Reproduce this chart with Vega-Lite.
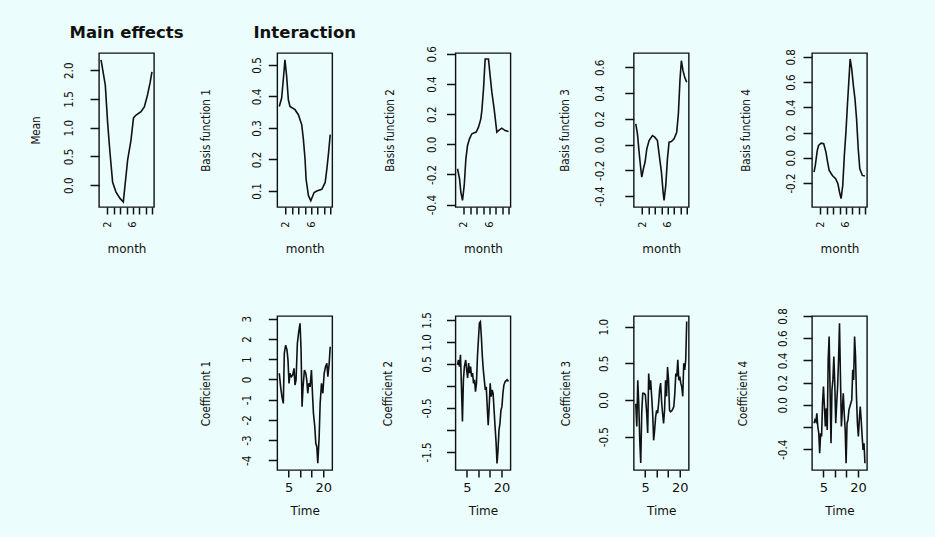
{
  "$schema": "https://vega.github.io/schema/vega-lite/v6.json",
  "padding": {"left": 29, "top": 23, "right": 68, "bottom": 20},
  "datasets": {
    "mean": [
      {"month": 1.0, "value": 2.18}, {"month": 1.67, "value": 1.74}, {"month": 2.04, "value": 1.08}, {"month": 2.41, "value": 0.56},
      {"month": 2.82, "value": 0.05}, {"month": 3.35, "value": -0.12}, {"month": 3.98, "value": -0.23}, {"month": 4.5, "value": -0.29},
      {"month": 4.8, "value": 0.03}, {"month": 5.18, "value": 0.44}, {"month": 5.7, "value": 0.78}, {"month": 6.1, "value": 1.17},
      {"month": 6.5, "value": 1.22}, {"month": 7.28, "value": 1.28}, {"month": 7.8, "value": 1.36}, {"month": 8.3, "value": 1.57},
      {"month": 8.7, "value": 1.78}, {"month": 9.0, "value": 1.97}
    ],
    "b1": [
      {"month": 1.0, "value": 0.368}, {"month": 1.37, "value": 0.395}, {"month": 1.63, "value": 0.453}, {"month": 1.89, "value": 0.516},
      {"month": 2.16, "value": 0.463}, {"month": 2.42, "value": 0.39}, {"month": 2.68, "value": 0.368}, {"month": 3.47, "value": 0.358},
      {"month": 4.0, "value": 0.342}, {"month": 4.53, "value": 0.31}, {"month": 4.79, "value": 0.263}, {"month": 5.05, "value": 0.2},
      {"month": 5.21, "value": 0.137}, {"month": 5.58, "value": 0.085}, {"month": 5.95, "value": 0.069}, {"month": 6.47, "value": 0.095},
      {"month": 6.89, "value": 0.1}, {"month": 7.68, "value": 0.105}, {"month": 8.21, "value": 0.127}, {"month": 8.47, "value": 0.169},
      {"month": 8.74, "value": 0.221}, {"month": 9.0, "value": 0.279}
    ],
    "b2": [
      {"month": 1.0, "value": -0.162}, {"month": 1.31, "value": -0.228}, {"month": 1.52, "value": -0.317}, {"month": 1.78, "value": -0.372},
      {"month": 2.05, "value": -0.273}, {"month": 2.31, "value": -0.096}, {"month": 2.57, "value": -0.008}, {"month": 2.88, "value": 0.036},
      {"month": 3.25, "value": 0.07}, {"month": 3.93, "value": 0.081}, {"month": 4.29, "value": 0.114}, {"month": 4.66, "value": 0.169},
      {"month": 4.82, "value": 0.224}, {"month": 5.08, "value": 0.368}, {"month": 5.34, "value": 0.566}, {"month": 5.86, "value": 0.566},
      {"month": 6.12, "value": 0.456}, {"month": 6.39, "value": 0.346}, {"month": 6.75, "value": 0.235}, {"month": 7.17, "value": 0.081},
      {"month": 7.43, "value": 0.091}, {"month": 7.95, "value": 0.107}, {"month": 8.48, "value": 0.091}, {"month": 9.0, "value": 0.085}
    ],
    "b3": [
      {"month": 1.0, "value": 0.16}, {"month": 1.26, "value": 0.083}, {"month": 1.52, "value": -0.059}, {"month": 1.78, "value": -0.188},
      {"month": 1.94, "value": -0.253}, {"month": 2.2, "value": -0.188}, {"month": 2.46, "value": -0.136}, {"month": 2.73, "value": -0.033},
      {"month": 3.09, "value": 0.031}, {"month": 3.61, "value": 0.07}, {"month": 3.98, "value": 0.057}, {"month": 4.4, "value": 0.031},
      {"month": 4.66, "value": -0.072}, {"month": 5.03, "value": -0.214}, {"month": 5.29, "value": -0.369}, {"month": 5.44, "value": -0.434},
      {"month": 5.71, "value": -0.318}, {"month": 5.97, "value": -0.111}, {"month": 6.23, "value": 0.019}, {"month": 6.59, "value": 0.023},
      {"month": 7.01, "value": 0.044}, {"month": 7.43, "value": 0.096}, {"month": 7.69, "value": 0.238}, {"month": 7.95, "value": 0.509},
      {"month": 8.16, "value": 0.651}, {"month": 8.42, "value": 0.574}, {"month": 8.69, "value": 0.522}, {"month": 9.0, "value": 0.484}
    ],
    "b4": [
      {"month": 1.0, "value": -0.113}, {"month": 1.2, "value": -0.061}, {"month": 1.51, "value": 0.058}, {"month": 1.71, "value": 0.097},
      {"month": 2.11, "value": 0.116}, {"month": 2.52, "value": 0.111}, {"month": 2.87, "value": 0.045}, {"month": 3.13, "value": -0.034},
      {"month": 3.38, "value": -0.1}, {"month": 3.89, "value": -0.14}, {"month": 4.39, "value": -0.166}, {"month": 4.75, "value": -0.206},
      {"month": 5.0, "value": -0.271}, {"month": 5.25, "value": -0.324}, {"month": 5.51, "value": -0.219}, {"month": 5.76, "value": 0.018},
      {"month": 6.01, "value": 0.203}, {"month": 6.27, "value": 0.44}, {"month": 6.52, "value": 0.651}, {"month": 6.67, "value": 0.783},
      {"month": 6.92, "value": 0.704}, {"month": 7.18, "value": 0.572}, {"month": 7.43, "value": 0.466}, {"month": 7.68, "value": 0.308},
      {"month": 7.94, "value": 0.071}, {"month": 8.19, "value": -0.087}, {"month": 8.59, "value": -0.14}, {"month": 9.0, "value": -0.145}
    ],
    "c1": [
      {"time": 1.0, "value": 0.3}, {"time": 1.58, "value": -0.37}, {"time": 2.16, "value": -0.86}, {"time": 2.74, "value": -1.19},
      {"time": 3.17, "value": 1.28}, {"time": 3.75, "value": 1.69}, {"time": 4.33, "value": 1.45}, {"time": 4.76, "value": 0.95},
      {"time": 5.2, "value": -0.2}, {"time": 5.63, "value": 0.3}, {"time": 6.21, "value": 0.13}, {"time": 6.79, "value": 0.21},
      {"time": 7.37, "value": 0.54}, {"time": 7.8, "value": -0.28}, {"time": 8.24, "value": -0.03}, {"time": 8.81, "value": 1.78},
      {"time": 9.39, "value": 2.35}, {"time": 9.97, "value": 2.77}, {"time": 10.41, "value": 1.45}, {"time": 10.84, "value": -1.35},
      {"time": 11.27, "value": -0.37}, {"time": 11.85, "value": 0.46}, {"time": 12.43, "value": 0.3}, {"time": 12.87, "value": -0.03},
      {"time": 13.3, "value": -0.69}, {"time": 13.73, "value": -0.2}, {"time": 14.31, "value": -0.37}, {"time": 14.89, "value": 0.46},
      {"time": 15.33, "value": -0.69}, {"time": 15.76, "value": -1.68}, {"time": 16.34, "value": -2.34}, {"time": 16.77, "value": -3.16},
      {"time": 17.21, "value": -3.33}, {"time": 17.64, "value": -4.15}, {"time": 18.22, "value": -2.84}, {"time": 18.65, "value": -1.19},
      {"time": 19.23, "value": -0.2}, {"time": 19.81, "value": -0.69}, {"time": 20.39, "value": 0.3}, {"time": 20.97, "value": 0.62},
      {"time": 21.55, "value": 0.79}, {"time": 21.98, "value": 0.13}, {"time": 22.56, "value": 0.79}, {"time": 23.0, "value": 1.61}
    ],
    "c2": [
      {"time": 1.0, "value": 0.48}, {"time": 1.42, "value": 0.59}, {"time": 1.85, "value": 0.44}, {"time": 2.27, "value": 0.71},
      {"time": 2.69, "value": -0.02}, {"time": 3.12, "value": -0.81}, {"time": 3.54, "value": 0.14}, {"time": 3.96, "value": 0.44},
      {"time": 4.53, "value": 0.59}, {"time": 4.95, "value": 0.36}, {"time": 5.37, "value": 0.18}, {"time": 5.79, "value": 0.52},
      {"time": 6.22, "value": 0.29}, {"time": 6.64, "value": 0.44}, {"time": 7.06, "value": 0.21}, {"time": 7.49, "value": 0.29},
      {"time": 7.91, "value": 0.06}, {"time": 8.33, "value": 0.14}, {"time": 8.76, "value": -0.13}, {"time": 9.18, "value": 0.06},
      {"time": 9.6, "value": 0.67}, {"time": 10.02, "value": 1.05}, {"time": 10.45, "value": 1.43}, {"time": 10.87, "value": 1.46},
      {"time": 11.29, "value": 1.12}, {"time": 11.72, "value": 0.67}, {"time": 12.14, "value": 0.36}, {"time": 12.56, "value": 0.14},
      {"time": 12.99, "value": -0.09}, {"time": 13.41, "value": -0.02}, {"time": 13.83, "value": -0.47}, {"time": 14.25, "value": -0.89},
      {"time": 14.68, "value": -0.47}, {"time": 15.1, "value": 0.06}, {"time": 15.52, "value": -0.24}, {"time": 15.95, "value": -0.09},
      {"time": 16.37, "value": -0.17}, {"time": 16.79, "value": -0.55}, {"time": 17.22, "value": -0.93}, {"time": 17.64, "value": -1.27},
      {"time": 18.06, "value": -1.76}, {"time": 18.48, "value": -1.46}, {"time": 18.91, "value": -1.0}, {"time": 19.33, "value": -0.85},
      {"time": 19.75, "value": -0.55}, {"time": 20.18, "value": -0.47}, {"time": 20.6, "value": -0.17}, {"time": 21.02, "value": 0.02},
      {"time": 21.59, "value": 0.1}, {"time": 22.43, "value": 0.14}, {"time": 23.0, "value": 0.1}
    ],
    "c3": [
      {"time": 1.0, "value": -0.05}, {"time": 1.43, "value": -0.36}, {"time": 1.86, "value": 0.27}, {"time": 2.29, "value": -0.05},
      {"time": 2.71, "value": -0.55}, {"time": 3.14, "value": -0.86}, {"time": 3.57, "value": -0.18}, {"time": 4.0, "value": 0.09},
      {"time": 4.57, "value": 0.09}, {"time": 5.14, "value": 0.07}, {"time": 5.72, "value": -0.18}, {"time": 6.14, "value": -0.45},
      {"time": 6.57, "value": 0.36}, {"time": 7.0, "value": 0.14}, {"time": 7.43, "value": 0.27}, {"time": 7.86, "value": 0.05},
      {"time": 8.29, "value": -0.18}, {"time": 8.72, "value": -0.55}, {"time": 9.15, "value": -0.41}, {"time": 9.57, "value": -0.23},
      {"time": 10.0, "value": -0.14}, {"time": 10.43, "value": -0.18}, {"time": 10.86, "value": -0.05}, {"time": 11.29, "value": 0.14},
      {"time": 11.72, "value": 0.23}, {"time": 12.15, "value": -0.02}, {"time": 12.57, "value": -0.18}, {"time": 13.0, "value": -0.32},
      {"time": 13.43, "value": -0.14}, {"time": 13.86, "value": 0.27}, {"time": 14.29, "value": 0.05}, {"time": 14.72, "value": 0.45},
      {"time": 15.15, "value": 0.27}, {"time": 15.58, "value": -0.14}, {"time": 16.0, "value": -0.16}, {"time": 16.72, "value": -0.14},
      {"time": 17.43, "value": -0.09}, {"time": 17.86, "value": 0.09}, {"time": 18.29, "value": 0.36}, {"time": 18.72, "value": 0.32},
      {"time": 19.15, "value": 0.55}, {"time": 19.58, "value": 0.27}, {"time": 20.01, "value": 0.32}, {"time": 20.43, "value": 0.23},
      {"time": 20.86, "value": 0.18}, {"time": 21.29, "value": 0.05}, {"time": 21.72, "value": 0.5}, {"time": 22.15, "value": 0.41},
      {"time": 22.58, "value": 0.55}, {"time": 23.0, "value": 1.07}
    ],
    "c4": [
      {"time": 1.0, "value": -0.165}, {"time": 1.41, "value": -0.135}, {"time": 1.81, "value": -0.15}, {"time": 2.22, "value": -0.075},
      {"time": 2.63, "value": -0.195}, {"time": 3.04, "value": -0.255}, {"time": 3.44, "value": -0.435}, {"time": 3.85, "value": -0.255},
      {"time": 4.26, "value": -0.285}, {"time": 4.67, "value": 0.015}, {"time": 5.07, "value": 0.165}, {"time": 5.48, "value": -0.015},
      {"time": 5.89, "value": -0.195}, {"time": 6.3, "value": -0.03}, {"time": 6.7, "value": -0.225}, {"time": 7.11, "value": 0.405},
      {"time": 7.52, "value": 0.615}, {"time": 7.93, "value": 0.135}, {"time": 8.33, "value": -0.345}, {"time": 8.74, "value": 0.135},
      {"time": 9.15, "value": 0.225}, {"time": 9.56, "value": 0.435}, {"time": 9.96, "value": 0.195}, {"time": 10.37, "value": -0.165},
      {"time": 10.78, "value": 0.015}, {"time": 11.19, "value": 0.165}, {"time": 11.59, "value": 0.405}, {"time": 12.0, "value": 0.735},
      {"time": 12.41, "value": 0.255}, {"time": 12.82, "value": -0.195}, {"time": 13.22, "value": -0.045}, {"time": 13.63, "value": 0.105},
      {"time": 14.04, "value": -0.075}, {"time": 14.45, "value": -0.225}, {"time": 14.85, "value": -0.525}, {"time": 15.26, "value": -0.165},
      {"time": 15.67, "value": -0.135}, {"time": 16.08, "value": -0.045}, {"time": 16.48, "value": -0.015}, {"time": 16.89, "value": 0.015},
      {"time": 17.3, "value": 0.045}, {"time": 17.71, "value": 0.315}, {"time": 18.11, "value": 0.225}, {"time": 18.52, "value": 0.615},
      {"time": 18.93, "value": 0.435}, {"time": 19.33, "value": 0.075}, {"time": 19.74, "value": -0.165}, {"time": 20.15, "value": -0.285},
      {"time": 20.56, "value": -0.135}, {"time": 20.96, "value": -0.015}, {"time": 21.37, "value": -0.135}, {"time": 21.78, "value": -0.285},
      {"time": 22.19, "value": -0.405}, {"time": 22.59, "value": -0.345}, {"time": 23.0, "value": -0.525}
    ],
    "blank": [{"a": 0}]
  },
  "columns": 5,
  "bounds": "flush",
  "spacing": {"row": 109, "column": 123.25},
  "concat": [
    {
      "width": 55, "height": 154,
      "title": {"text": "Main effects"},
      "data": {"name": "mean"},
      "mark": {"type": "line", "color": "#111", "strokeWidth": 1.6},
      "encoding": {
        "x": {"field": "month", "type": "quantitative", "scale": {"domain": [0.68, 9.32], "nice": false, "zero": false},
          "axis": {"title": "month", "values": [2, 3, 4, 5, 6, 7, 8, 9], "labelExpr": "datum.value == 2 || datum.value == 6 ? datum.label : ''", "labelAngle": -90, "labelAlign": "right", "labelBaseline": "middle", "labelPadding": 7, "labelFont": "Liberation Sans Narrow, DejaVu Sans Condensed, Liberation Sans", "labelFontSize": 11, "titleY": 41}},
        "y": {"field": "value", "type": "quantitative", "scale": {"domain": [-0.38, 2.3], "nice": false, "zero": false},
          "axis": {"title": "Mean", "values": [0, 0.5, 1, 1.5, 2], "format": ".1f", "labelExpr": "replace(datum.label, '−', '-')", "labelPadding": 21, "titleX": -63}}
      }
    },
    {
      "width": 55, "height": 154,
      "title": {"text": "Interaction"},
      "data": {"name": "b1"},
      "mark": {"type": "line", "color": "#111", "strokeWidth": 1.6},
      "encoding": {
        "x": {"field": "month", "type": "quantitative", "scale": {"domain": [0.68, 9.32], "nice": false, "zero": false},
          "axis": {"title": "month", "values": [2, 3, 4, 5, 6, 7, 8, 9], "labelExpr": "datum.value == 2 || datum.value == 6 ? datum.label : ''", "labelAngle": -90, "labelAlign": "right", "labelBaseline": "middle", "labelPadding": 7, "labelFont": "Liberation Sans Narrow, DejaVu Sans Condensed, Liberation Sans", "labelFontSize": 11, "titleY": 41}},
        "y": {"field": "value", "type": "quantitative", "scale": {"domain": [0.049, 0.538], "nice": false, "zero": false},
          "axis": {"title": "Basis function 1", "values": [0.1, 0.2, 0.3, 0.4, 0.5], "format": ".1f", "labelExpr": "replace(datum.label, '−', '-')", "labelPadding": 11, "titleX": -71}}
      }
    },
    {
      "width": 55, "height": 154,
      "data": {"name": "b2"},
      "mark": {"type": "line", "color": "#111", "strokeWidth": 1.6},
      "encoding": {
        "x": {"field": "month", "type": "quantitative", "scale": {"domain": [0.68, 9.32], "nice": false, "zero": false},
          "axis": {"title": "month", "values": [2, 3, 4, 5, 6, 7, 8, 9], "labelExpr": "datum.value == 2 || datum.value == 6 ? datum.label : ''", "labelAngle": -90, "labelAlign": "right", "labelBaseline": "middle", "labelPadding": 7, "labelFont": "Liberation Sans Narrow, DejaVu Sans Condensed, Liberation Sans", "labelFontSize": 11, "titleY": 41}},
        "y": {"field": "value", "type": "quantitative", "scale": {"domain": [-0.416, 0.606], "nice": false, "zero": false},
          "axis": {"title": "Basis function 2", "values": [-0.4, -0.2, 0, 0.2, 0.4, 0.6], "format": ".1f", "labelExpr": "replace(datum.label, '−', '-')", "labelPadding": 14, "titleX": -65}}
      }
    },
    {
      "width": 55, "height": 154,
      "data": {"name": "b3"},
      "mark": {"type": "line", "color": "#111", "strokeWidth": 1.6},
      "encoding": {
        "x": {"field": "month", "type": "quantitative", "scale": {"domain": [0.68, 9.32], "nice": false, "zero": false},
          "axis": {"title": "month", "values": [2, 3, 4, 5, 6, 7, 8, 9], "labelExpr": "datum.value == 2 || datum.value == 6 ? datum.label : ''", "labelAngle": -90, "labelAlign": "right", "labelBaseline": "middle", "labelPadding": 7, "labelFont": "Liberation Sans Narrow, DejaVu Sans Condensed, Liberation Sans", "labelFontSize": 11, "titleY": 41}},
        "y": {"field": "value", "type": "quantitative", "scale": {"domain": [-0.485, 0.711], "nice": false, "zero": false},
          "axis": {"title": "Basis function 3", "values": [-0.4, -0.2, 0, 0.2, 0.4, 0.6], "format": ".1f", "labelExpr": "replace(datum.label, '−', '-')", "labelPadding": 24, "titleX": -68}}
      }
    },
    {
      "width": 55, "height": 154,
      "data": {"name": "b4"},
      "mark": {"type": "line", "color": "#111", "strokeWidth": 1.6},
      "encoding": {
        "x": {"field": "month", "type": "quantitative", "scale": {"domain": [0.68, 9.32], "nice": false, "zero": false},
          "axis": {"title": "month", "values": [2, 3, 4, 5, 6, 7, 8, 9], "labelExpr": "datum.value == 2 || datum.value == 6 ? datum.label : ''", "labelAngle": -90, "labelAlign": "right", "labelBaseline": "middle", "labelPadding": 7, "labelFont": "Liberation Sans Narrow, DejaVu Sans Condensed, Liberation Sans", "labelFontSize": 11, "titleY": 41}},
        "y": {"field": "value", "type": "quantitative", "scale": {"domain": [-0.39, 0.83], "nice": false, "zero": false},
          "axis": {"title": "Basis function 4", "values": [-0.2, 0, 0.2, 0.4, 0.6, 0.8], "format": ".1f", "labelExpr": "replace(datum.label, '−', '-')", "labelPadding": 12, "titleX": -66}}
      }
    },
    {
      "width": 55, "height": 154,
      "data": {"name": "blank"},
      "mark": {"type": "point", "opacity": 0},
      "view": {"stroke": null}
    },
    {
      "width": 55, "height": 154,
      "data": {"name": "c1"},
      "mark": {"type": "line", "color": "#111", "strokeWidth": 1.6},
      "encoding": {
        "x": {"field": "time", "type": "quantitative", "scale": {"domain": [0.12, 23.88], "nice": false, "zero": false},
          "axis": {"title": "Time", "values": [5, 10, 15, 20], "labelExpr": "datum.value == 5 || datum.value == 20 ? datum.label : ''", "labelAngle": 0, "labelAlign": "center", "labelBaseline": "top", "labelPadding": 4, "labelFont": "DejaVu Sans", "labelFontSize": 13, "titleY": 40}},
        "y": {"field": "value", "type": "quantitative", "scale": {"domain": [-4.48, 3.13], "nice": false, "zero": false},
          "axis": {"title": "Coefficient 1", "values": [-4, -3, -2, -1, 0, 1, 2, 3], "format": "d", "labelExpr": "replace(datum.label, '−', '-')", "labelPadding": 21, "titleX": -71}}
      }
    },
    {
      "width": 55, "height": 154,
      "data": {"name": "c2"},
      "mark": {"type": "line", "color": "#111", "strokeWidth": 1.6},
      "encoding": {
        "x": {"field": "time", "type": "quantitative", "scale": {"domain": [0.12, 23.88], "nice": false, "zero": false},
          "axis": {"title": "Time", "values": [5, 10, 15, 20], "labelExpr": "datum.value == 5 || datum.value == 20 ? datum.label : ''", "labelAngle": 0, "labelAlign": "center", "labelBaseline": "top", "labelPadding": 4, "labelFont": "DejaVu Sans", "labelFontSize": 13, "titleY": 40}},
        "y": {"field": "value", "type": "quantitative", "scale": {"domain": [-1.91, 1.59], "nice": false, "zero": false},
          "axis": {"title": "Coefficient 2", "values": [-1.5, -1, -0.5, 0, 0.5, 1, 1.5], "format": ".1f", "labelExpr": "datum.value == -1 || datum.value == 0 ? '' : replace(datum.label, '−', '-')", "labelPadding": 19, "titleX": -67}}
      }
    },
    {
      "width": 55, "height": 154,
      "data": {"name": "c3"},
      "mark": {"type": "line", "color": "#111", "strokeWidth": 1.6},
      "encoding": {
        "x": {"field": "time", "type": "quantitative", "scale": {"domain": [0.12, 23.88], "nice": false, "zero": false},
          "axis": {"title": "Time", "values": [5, 10, 15, 20], "labelExpr": "datum.value == 5 || datum.value == 20 ? datum.label : ''", "labelAngle": 0, "labelAlign": "center", "labelBaseline": "top", "labelPadding": 4, "labelFont": "DejaVu Sans", "labelFontSize": 13, "titleY": 40}},
        "y": {"field": "value", "type": "quantitative", "scale": {"domain": [-0.955, 1.146], "nice": false, "zero": false},
          "axis": {"title": "Coefficient 3", "values": [-0.5, 0, 0.5, 1], "format": ".1f", "labelExpr": "replace(datum.label, '−', '-')", "labelPadding": 20, "titleX": -67}}
      }
    },
    {
      "width": 55, "height": 154,
      "data": {"name": "c4"},
      "mark": {"type": "line", "color": "#111", "strokeWidth": 1.6},
      "encoding": {
        "x": {"field": "time", "type": "quantitative", "scale": {"domain": [0.12, 23.88], "nice": false, "zero": false},
          "axis": {"title": "Time", "values": [5, 10, 15, 20], "labelExpr": "datum.value == 5 || datum.value == 20 ? datum.label : ''", "labelAngle": 0, "labelAlign": "center", "labelBaseline": "top", "labelPadding": 4, "labelFont": "DejaVu Sans", "labelFontSize": 13, "titleY": 40}},
        "y": {"field": "value", "type": "quantitative", "scale": {"domain": [-0.586, 0.8], "nice": false, "zero": false},
          "axis": {"title": "Coefficient 4", "values": [-0.4, -0.2, 0, 0.2, 0.4, 0.6, 0.8], "format": ".1f", "labelExpr": "datum.value == -0.2 ? '' : replace(datum.label, '−', '-')", "labelPadding": 20, "titleX": -69}}
      }
    }
  ],
  "config": {
    "background": "#ecfdfd",
    "view": {"stroke": "#111", "strokeWidth": 1.4},
    "axis": {"domain": false, "grid": false, "tickColor": "#111", "tickWidth": 1.5, "labelColor": "#111", "titleColor": "#111", "labelOverlap": false, "labelFlush": false, "labelBound": false, "titleFontWeight": "normal"},
    "axisX": {"tickSize": 7, "titleFont": "DejaVu Sans", "titleFontSize": 12, "titleX": 27.5, "titleAlign": "center", "titleBaseline": "middle", "titleAngle": 0},
    "axisY": {"tickSize": 9, "labelAngle": -90, "labelAlign": "center", "labelBaseline": "middle", "labelFont": "Liberation Sans Narrow, DejaVu Sans Condensed, Liberation Sans", "labelFontSize": 11.5, "titleFont": "Liberation Sans Narrow, DejaVu Sans Condensed, Liberation Sans", "titleFontSize": 11.5, "titleAngle": -90, "titleAlign": "center", "titleBaseline": "middle", "titleY": 77},
    "title": {"font": "DejaVu Sans", "fontSize": 16.5, "fontWeight": "bold", "color": "#111", "anchor": "middle", "frame": "group", "offset": 12}
  }
}
